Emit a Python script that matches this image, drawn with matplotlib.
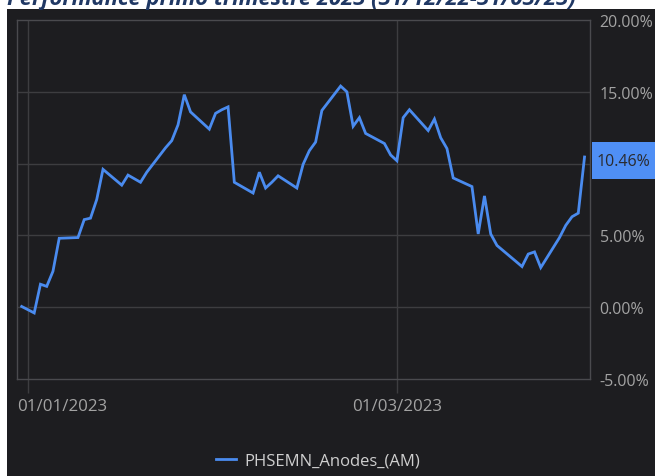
import matplotlib
matplotlib.use("Agg")
import matplotlib.pyplot as plt
from matplotlib.patches import Rectangle
from matplotlib.transforms import blended_transform_factory
import pandas as pd

# ---- data ----
dates = [
    "2022-12-31", "2023-01-02", "2023-01-03", "2023-01-04", "2023-01-05", "2023-01-06",
    "2023-01-09", "2023-01-10", "2023-01-11", "2023-01-12", "2023-01-13",
    "2023-01-16", "2023-01-17", "2023-01-18", "2023-01-19", "2023-01-20",
    "2023-01-23", "2023-01-24", "2023-01-25", "2023-01-26", "2023-01-27",
    "2023-01-30", "2023-01-31", "2023-02-01", "2023-02-02", "2023-02-03",
    "2023-02-06", "2023-02-07", "2023-02-08", "2023-02-09", "2023-02-10",
    "2023-02-13", "2023-02-14", "2023-02-15", "2023-02-16", "2023-02-17",
    "2023-02-20", "2023-02-21", "2023-02-22", "2023-02-23", "2023-02-24",
    "2023-02-27", "2023-02-28", "2023-03-01", "2023-03-02", "2023-03-03",
    "2023-03-06", "2023-03-07", "2023-03-08", "2023-03-09", "2023-03-10",
    "2023-03-13", "2023-03-14", "2023-03-15", "2023-03-16", "2023-03-17",
    "2023-03-20", "2023-03-21", "2023-03-22", "2023-03-23", "2023-03-24",
    "2023-03-27", "2023-03-28", "2023-03-29", "2023-03-30", "2023-03-31",
]
performance = [
    0.05, -0.40, 1.60, 1.45, 2.50, 4.80,
    4.85, 6.10, 6.20, 7.50, 9.60,
    8.50, 9.20, 8.95, 8.70, 9.40,
    11.10, 11.60, 12.70, 14.80, 13.60,
    12.40, 13.50, 13.75, 13.95, 8.70,
    7.95, 9.40, 8.30, 8.70, 9.15,
    8.30, 9.95, 10.90, 11.50, 13.70,
    15.40, 15.00, 12.60, 13.20, 12.10,
    11.40, 10.60, 10.20, 13.20, 13.75,
    12.30, 13.10, 11.80, 11.05, 9.00,
    8.40, 5.10, 7.75, 5.10, 4.30,
    3.20, 2.83, 3.70, 3.85, 2.76,
    4.85, 5.70, 6.30, 6.55, 10.46,
]
series_name = "PHSEMN_Anodes_(AM)"
title = "Performance primo trimestre 2023 (31/12/22-31/03/23)"
y_ticks = [-5, 0, 5, 10, 15, 20]
y_tick_labels = ["-5.00%", "0.00%", "5.00%", "", "15.00%", "20.00%"]  # 10.00% hidden under the badge
x_ticks = ["2023-01-01", "2023-03-01"]
x_tick_labels = ["01/01/2023", "01/03/2023"]
last_value = performance[-1]

# ---- style ----
BG = "#1d1d20"
GRID = "#3d3d40"
SPINE = "#4a4a4e"
TXT = "#a3a3a3"
LINE = "#4a8bef"
FONT = "Open Sans"

W, H = 655, 477
fig = plt.figure(figsize=(W / 100, H / 100), dpi=100, facecolor="white")

# dark panel behind chart
fig.patches.append(Rectangle((7 / W, 0), 1 - 7 / W, 1 - 10 / H,
                             transform=fig.transFigure, facecolor=BG,
                             edgecolor="none", zorder=-10))

# cut-off title on white strip
fig.text(7 / W, 1 - 5 / H, title, ha="left", va="baseline",
         fontsize=15.8, fontweight="bold", fontstyle="italic",
         color="#203864", family=FONT, zorder=-5)

ax = fig.add_axes([17 / W, 1 - 380 / H, (590 - 17) / W, (380 - 21) / H])
ax.set_facecolor(BG)

x = pd.to_datetime(dates)
ax.plot(x, performance, color=LINE, lw=2.0, solid_joinstyle="miter",
        label=series_name, zorder=3)

ax.set_xlim(pd.Timestamp("2022-12-30 06:00"), pd.Timestamp("2023-03-31 21:00"))
ax.set_ylim(-5, 20)

for s in ax.spines.values():
    s.set_color(SPINE)
    s.set_linewidth(1.0)

# y axis on the right
ax.yaxis.tick_right()
ax.set_yticks(y_ticks)
ax.set_yticklabels(y_tick_labels, family=FONT, fontsize=11.5, color=TXT)
ax.tick_params(axis="y", length=0, pad=7)
for v in y_ticks[1:-1]:
    ax.axhline(v, color=GRID, lw=1.0, zorder=1)

# x axis
xt = pd.to_datetime(x_ticks)
ax.set_xticks(xt)
ax.set_xticklabels([])
ax.tick_params(axis="x", length=10, color=GRID, width=1.0)
for d in xt:
    ax.axvline(d, color=GRID, lw=1.0, zorder=1)
tb = blended_transform_factory(ax.transData, ax.transAxes)
for i, (d, lab) in enumerate(zip(xt, x_tick_labels)):
    if i == 0:
        ax.text(0.0, -0.075, lab, transform=ax.transAxes, ha="left", va="center",
                family=FONT, fontsize=12.2, color=TXT)
    else:
        ax.text(d, -0.075, lab, transform=tb, ha="center", va="center",
                family=FONT, fontsize=12.2, color=TXT)

# last value badge
tr = blended_transform_factory(ax.transAxes, ax.transData)
ax.add_patch(Rectangle((1.004, last_value - 1.55), 0.12, 2.6, transform=tr,
                       facecolor="#4f8ff5", edgecolor="none", clip_on=False,
                       zorder=5))
ax.text(1.0 + 7 / 573, last_value - 0.25, f"{last_value:.2f}%", transform=tr,
        ha="left", va="center", family=FONT, fontsize=11.5, color="#2b2b2e",
        zorder=6)

# legend
leg = fig.legend(loc="center", bbox_to_anchor=(318 / W, 1 - 462 / H),
                 frameon=False, handlelength=1.2, handletextpad=0.5,
                 prop={"family": FONT, "size": 12})
for t in leg.get_texts():
    t.set_color("#cfcfcf")

fig.savefig("out.png", dpi=100, facecolor="white")
